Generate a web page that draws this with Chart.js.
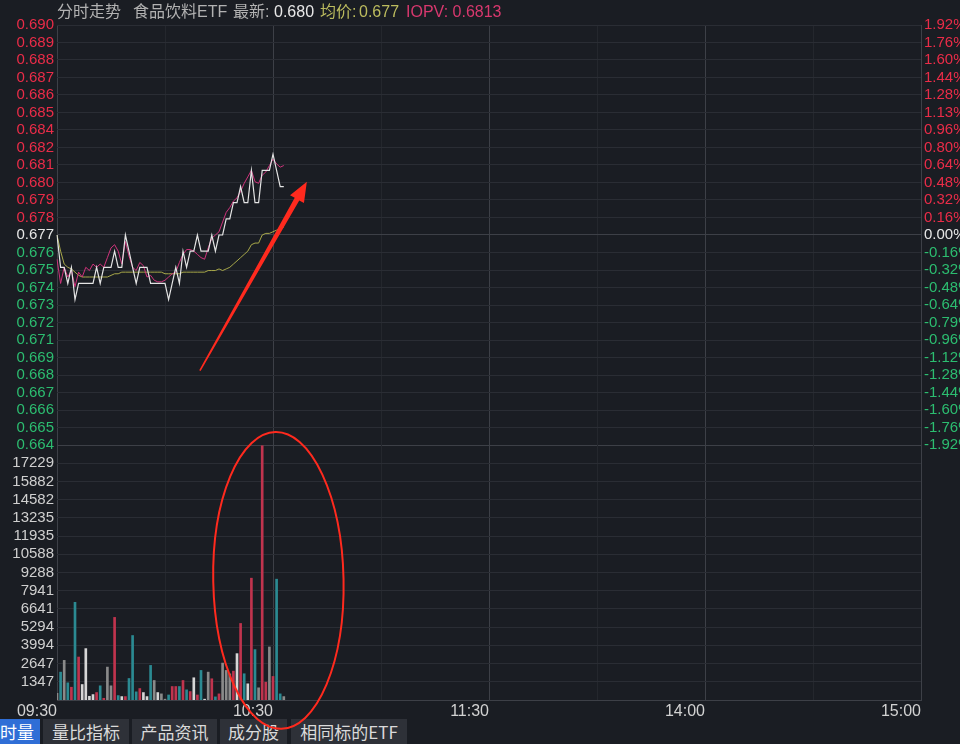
<!DOCTYPE html>
<html>
<head>
<meta charset="utf-8">
<script src="https://cdn.jsdelivr.net/npm/chart.js@4.4.1/dist/chart.umd.min.js"></script>
<style>
body { margin: 0; background: #1a1d23; width: 960px; height: 744px; overflow: hidden; position: relative;
  font-family: "Liberation Sans", Arial, "Noto Sans CJK SC", sans-serif; }
#price, #vol { position: absolute; left: 0; top: 0; }
#vol { z-index: 3; pointer-events: none; }
.t { position: absolute; top: 2px; font-size: 16px; line-height: 20px; color: #b2b2b2; white-space: nowrap;
  font-family: "Liberation Sans", Arial, "Noto Sans CJK SC", sans-serif; }
.t.w { color: #e8e8e8; }
.t.y { color: #bcbc5e; }
.t.m { color: #d8386e; }
.tab { position: absolute; top: 719px; height: 25px; line-height: 25px; background: #2e3138; color: #dadada;
  font-size: 17px; text-align: center; font-family: "Noto Sans CJK SC", sans-serif; }
.tab.on { background: #2f6ed6; color: #fff; text-align: left; }
</style>
</head>
<body>
<canvas id="price" width="960" height="460"></canvas>
<canvas id="vol" width="960" height="744"></canvas>
<span class="t" style="left:57px">分时走势</span>
<span class="t" style="left:133px">食品饮料ETF</span>
<span class="t" style="left:233px">最新:</span>
<span class="t w" style="left:274px">0.680</span>
<span class="t y" style="left:320px">均价:</span>
<span class="t y" style="left:359px">0.677</span>
<span class="t m" style="left:406px">IOPV: 0.6813</span>
<div class="tab on" style="left:0;width:40px">时量</div>
<div class="tab" style="left:43px;width:86px">量比指标</div>
<div class="tab" style="left:132px;width:85px">产品资讯</div>
<div class="tab" style="left:220px;width:67px">成分股</div>
<div class="tab" style="left:291px;width:116px">相同标的ETF</div>
<script>
// ---- data ----
const prevClose = 0.677;
const priceMax = 0.690;
const priceMin = 0.664;

const priceTickLabels = ['0.690', '0.689', '0.688', '0.687', '0.686', '0.685', '0.684', '0.682', '0.681', '0.680',
  '0.679', '0.678', '0.677', '0.676', '0.675', '0.674', '0.673', '0.672', '0.671', '0.669', '0.668', '0.667',
  '0.666', '0.665', '0.664'];
const pctTickLabels = ['1.92%', '1.76%', '1.60%', '1.44%', '1.28%', '1.13%', '0.96%', '0.80%', '0.64%', '0.48%',
  '0.32%', '0.16%', '0.00%', '-0.16%', '-0.32%', '-0.48%', '-0.64%', '-0.79%', '-0.96%', '-1.12%', '-1.28%',
  '-1.44%', '-1.60%', '-1.76%', '-1.92%'];
// bottom to top
const volTickLabels = ['1347', '2647', '3994', '5294', '6641', '7941', '9288', '10588', '11935', '13235',
  '14582', '15882', '17229'];
const volAxisMax = 18554;

const timeTickLabels = ['09:30', '10:30', '11:30', '14:00', '15:00'];
const gridTimes = ['09:30', '10:00', '10:30', '11:00', '11:30', '13:30', '14:00', '14:30', '15:00'];

// one value per minute from 09:30
const lastPrice = [0.677, 0.675, 0.675, 0.674, 0.675, 0.673, 0.674, 0.674, 0.674, 0.674,
  0.674, 0.675, 0.674, 0.675, 0.675, 0.675, 0.676, 0.675, 0.675, 0.677,
  0.676, 0.675, 0.674, 0.675, 0.675, 0.675, 0.674, 0.674, 0.674, 0.674,
  0.674, 0.673, 0.674, 0.675, 0.674, 0.676, 0.675, 0.676, 0.676, 0.677,
  0.676, 0.676, 0.676, 0.677, 0.676, 0.677, 0.677, 0.678, 0.678, 0.679,
  0.679, 0.680, 0.679, 0.679, 0.681, 0.679, 0.679, 0.681, 0.681, 0.681,
  0.682, 0.681, 0.680, 0.680];
const iopv = [0.6755, 0.6740, 0.6750, 0.6744, 0.6748, 0.6738, 0.6747, 0.6744, 0.6750, 0.6748,
  0.6752, 0.6750, 0.6752, 0.6750, 0.6756, 0.6762, 0.6764, 0.6760, 0.6752, 0.6766,
  0.6757, 0.6750, 0.6748, 0.6753, 0.6751, 0.6744, 0.6745, 0.6742, 0.6741, 0.6741,
  0.6742, 0.6744, 0.6746, 0.6747, 0.6753, 0.6758, 0.6761, 0.6761, 0.6760, 0.6758,
  0.6756, 0.6755, 0.6762, 0.6768, 0.6770, 0.6772, 0.6778, 0.6784, 0.6787, 0.6791,
  0.6793, 0.6797, 0.6802, 0.6806, 0.6810, 0.6803, 0.6802, 0.6807, 0.6809, 0.6813,
  0.6817, 0.6814, 0.6812, 0.6813];
const avgPrice = [0.6770, 0.6760, 0.6752, 0.6750, 0.6749, 0.6747, 0.6745, 0.6744, 0.6744, 0.6744,
  0.6744, 0.6744, 0.6744, 0.6744, 0.6744, 0.6745, 0.6746, 0.6746, 0.6747, 0.6747,
  0.6747, 0.6747, 0.6747, 0.6747, 0.6747, 0.6747, 0.6747, 0.6747, 0.6747, 0.6747,
  0.6746, 0.6746, 0.6746, 0.6746, 0.6746, 0.6747, 0.6747, 0.6747, 0.6747, 0.6747,
  0.6747, 0.6747, 0.6748, 0.6748, 0.6748, 0.6749, 0.6748, 0.6749, 0.6750, 0.6752,
  0.6754, 0.6756, 0.6758, 0.6760, 0.6764, 0.6765, 0.6765, 0.6770, 0.6771, 0.6771,
  0.6772, 0.6773, 0.6774, 0.6775];
const volume = [490, 2028, 2884, 1250, 930, 7107, 3126, 1127, 3740, 271,
  395, 542, 1032, 124, 2394, 1032, 6010, 322, 249, 249,
  1566, 4692, 593, 834, 542, 249, 2518, 1420, 542, 446,
  60, 366, 981, 981, 981, 1420, 739, 615, 1618, 366,
  2152, 60, 2028, 1545, 227, 446, 2687, 2152, 1900, 2100,
  3374, 5570, 1910, 1178, 8864, 3667, 886, 18500, 1296, 3858,
  1713, 8791, 446, 249];
// u = up, d = down, f = flat, g = flat (grey)
const volDir = ['g', 'd', 'g', 'd', 'u', 'd', 'u', 'f', 'f', 'f',
  'f', 'u', 'd', 'u', 'g', 'g', 'u', 'd', 'f', 'u',
  'd', 'd', 'd', 'u', 'f', 'f', 'd', 'g', 'f', 'g',
  'g', 'd', 'u', 'u', 'd', 'u', 'd', 'u', 'f', 'u',
  'd', 'f', 'g', 'u', 'd', 'u', 'g', 'g', 'g', 'u',
  'f', 'u', 'd', 'f', 'u', 'd', 'g', 'u', 'u', 'g',
  'u', 'd', 'd', 'g'];

// hand-drawn marks, in chart units
const arrowFrom = { min: 39.7, price: 0.6686 };
const arrowTo = { min: 69.4, price: 0.6803 };
const ringCenter = { min: 61.5, vol: 8700 };
const ringRadius = { min: 18.1, vol: 10800 };

// ---- styles ----
const upColor = '#ea2c48';
const downColor = '#2cbd70';
const barColors = { u: '#c0344e', d: '#2b8a92', f: '#d6d6d6', g: '#8a8a8a' };
const gridColor = '#2a2d34';
const strongGrid = '#3d4047';

Chart.defaults.font.family = '"Liberation Sans", Arial, "Noto Sans CJK SC", sans-serif';
Chart.defaults.font.size = 15;
Chart.defaults.animation = false;
Chart.defaults.plugins.legend.display = false;
Chart.defaults.plugins.tooltip.enabled = false;

const pad = n => String(n).padStart(2, '0');
const tradingMinutes = [];
for (let t = 9 * 60 + 30; t <= 11 * 60 + 30; t++) tradingMinutes.push(pad(Math.floor(t / 60)) + ':' + pad(t % 60));
for (let t = 13 * 60 + 1; t <= 15 * 60; t++) tradingMinutes.push(pad(Math.floor(t / 60)) + ':' + pad(t % 60));

const timeAxis = (showLabels) => ({
  type: 'category',
  labels: tradingMinutes,
  offset: false,
  grid: {
    offset: false,
    drawTicks: false,
    color: c => timeTickLabels.includes(tradingMinutes[c.tick.value]) ? strongGrid : '#24272d'
  },
  border: { display: showLabels, color: strongGrid },
  ticks: {
    display: showLabels,
    autoSkip: false,
    maxRotation: 0,
    align: 'end',
    padding: 2,
    color: '#d2d2d2',
    font: { size: 16 },
    callback: v => timeTickLabels.includes(tradingMinutes[v]) ? tradingMinutes[v] : ''
  },
  afterBuildTicks: s => { s.ticks = gridTimes.map(t => ({ value: tradingMinutes.indexOf(t) })); },
  afterFit: s => { s.height = showLabels ? 44 : 0; }
});

const priceStep = (priceMax - priceMin) / (priceTickLabels.length - 1);
const priceTicks = s => { s.ticks = priceTickLabels.map((_, i) => ({ value: priceMax - i * priceStep })); };
const sideColor = c => {
  const v = c.tick.value;
  if (v > prevClose + 1e-5) return upColor;
  if (v < prevClose - 1e-5) return downColor;
  return '#e6e6e6';
};

const priceChart = new Chart(document.getElementById('price'), {
  type: 'line',
  data: {
    labels: tradingMinutes,
    datasets: [
      { data: lastPrice, borderColor: '#e4e4e4', borderWidth: 1.2, order: 0 },
      { data: iopv, borderColor: '#cf347c', borderWidth: 1, order: 1 },
      { data: avgPrice, borderColor: '#a8a84a', borderWidth: 1, order: 2 }
    ]
  },
  options: {
    responsive: false,
    layout: { padding: { top: 25, bottom: 15 } },
    elements: { point: { radius: 0 }, line: { tension: 0 } },
    scales: {
      x: timeAxis(false),
      y: {
        position: 'left',
        min: priceMin,
        max: priceMax,
        afterBuildTicks: priceTicks,
        afterFit: s => { s.width = 57; },
        border: { display: false },
        grid: {
          drawTicks: false,
          color: c => (Math.abs(c.tick.value - prevClose) < 1e-5 || Math.abs(c.tick.value - priceMin) < 1e-5) ? strongGrid : gridColor
        },
        ticks: { autoSkip: false, padding: 3, color: sideColor, callback: (v, i) => priceTickLabels[i] }
      },
      pct: {
        position: 'right',
        min: priceMin,
        max: priceMax,
        afterBuildTicks: priceTicks,
        afterFit: s => { s.width = 39; },
        border: { display: false },
        grid: { display: false, drawTicks: false },
        ticks: { autoSkip: false, padding: 3, color: sideColor, callback: (v, i) => pctTickLabels[i] }
      }
    }
  }
});

const marksPlugin = {
  id: 'marks',
  afterDraw(chart) {
    const ctx = chart.ctx;
    const px = priceChart.scales.x, py = priceChart.scales.y;
    const vx = chart.scales.x, vy = chart.scales.y;
    ctx.save();
    // arrow
    const t = { x: px.getPixelForValue(arrowFrom.min), y: py.getPixelForValue(arrowFrom.price) };
    const p = { x: px.getPixelForValue(arrowTo.min), y: py.getPixelForValue(arrowTo.price) };
    const len = Math.hypot(p.x - t.x, p.y - t.y);
    const ux = (p.x - t.x) / len, uy = (p.y - t.y) / len;
    const nx = -uy, ny = ux;
    const headLen = 20, headW = 8;
    const bx = p.x - ux * headLen, by = p.y - uy * headLen;
    ctx.fillStyle = '#ff2a1e';
    ctx.beginPath();
    ctx.moveTo(t.x + nx * 0.8, t.y + ny * 0.8);
    ctx.lineTo(bx + nx * 2.6, by + ny * 2.6);
    ctx.lineTo(bx + nx * headW, by + ny * headW);
    ctx.lineTo(p.x, p.y);
    ctx.lineTo(bx - nx * headW, by - ny * headW);
    ctx.lineTo(bx - nx * 2.6, by - ny * 2.6);
    ctx.lineTo(t.x - nx * 0.8, t.y - ny * 0.8);
    ctx.closePath();
    ctx.fill();
    // ring round the volume spike
    const cx = vx.getPixelForValue(ringCenter.min), cy = vy.getPixelForValue(ringCenter.vol);
    const rx = vx.getPixelForValue(ringCenter.min + ringRadius.min) - cx;
    const ry = cy - vy.getPixelForValue(ringCenter.vol + ringRadius.vol);
    ctx.strokeStyle = '#ff2a1e';
    ctx.lineWidth = 2;
    ctx.beginPath();
    ctx.ellipse(cx, cy, rx, ry, -0.02, 0, Math.PI * 2);
    ctx.stroke();
    ctx.restore();
  }
};

new Chart(document.getElementById('vol'), {
  type: 'bar',
  data: {
    labels: tradingMinutes,
    datasets: [{
      data: volume,
      backgroundColor: volDir.map(d => barColors[d]),
      borderWidth: 0,
      barThickness: 2
    }]
  },
  options: {
    responsive: false,
    layout: { padding: { top: 445, right: 39 } },
    scales: {
      x: timeAxis(true),
      y: {
        position: 'left',
        min: 0,
        max: volAxisMax,
        afterBuildTicks: s => {
          s.ticks = volTickLabels.map((_, i) => ({ value: (i + 1) * volAxisMax / (volTickLabels.length + 1) }));
        },
        afterFit: s => { s.width = 57; },
        border: { display: false },
        grid: { drawTicks: false, color: gridColor },
        ticks: { autoSkip: false, padding: 3, color: '#cfcfcf', callback: (v, i) => volTickLabels[i] }
      }
    }
  },
  plugins: [marksPlugin]
});
</script>
</body>
</html>
